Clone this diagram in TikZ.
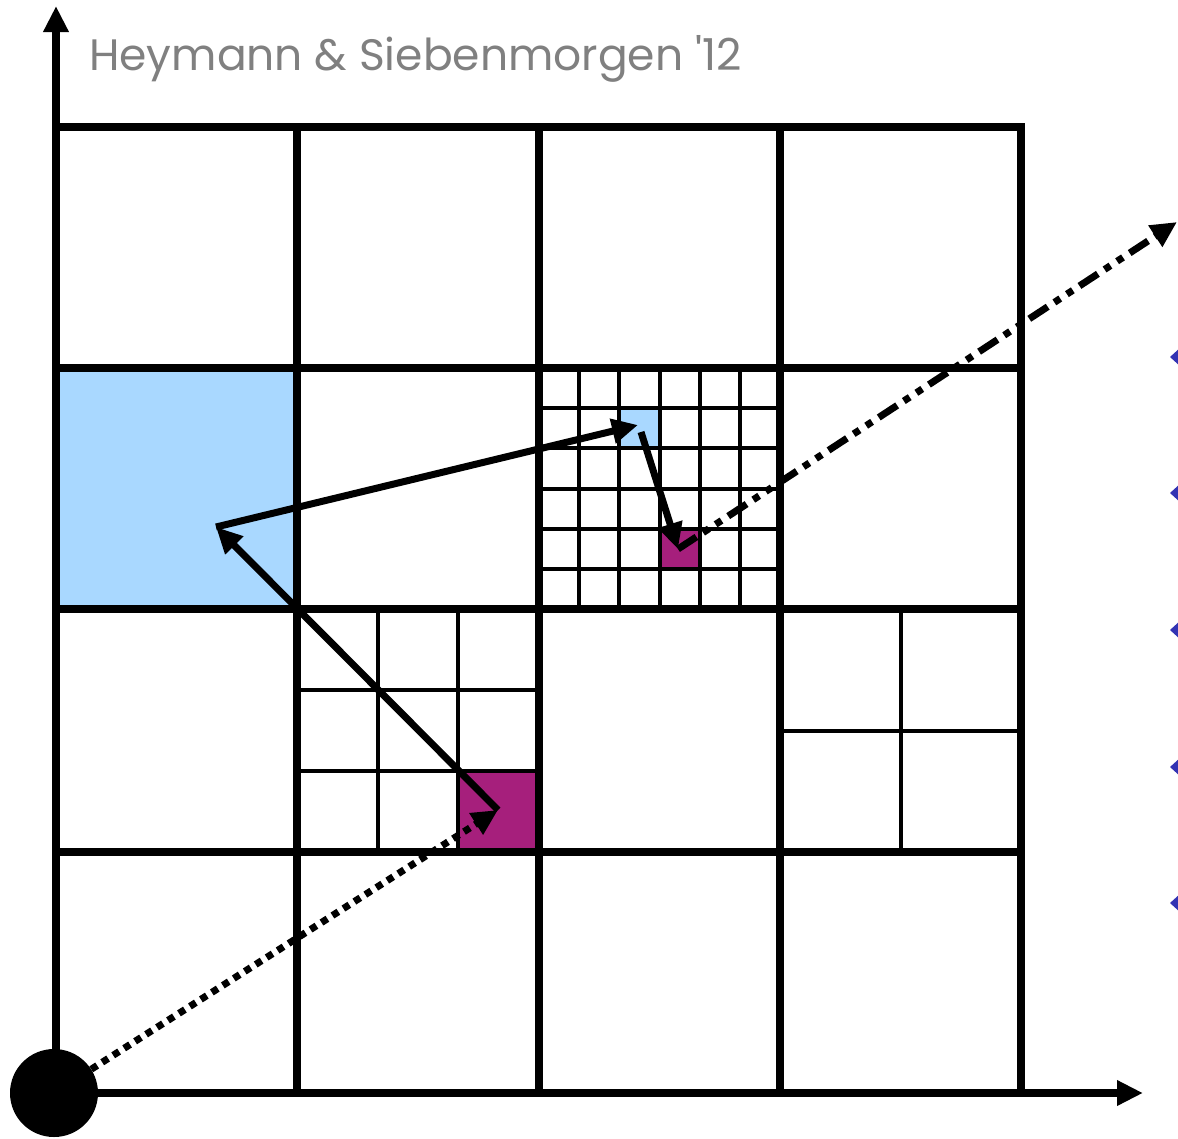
\documentclass[tikz,border=0pt]{standalone}
\usepackage{fontspec}
\newfontfamily\titlefont{Poppins}
\usetikzlibrary{arrows.meta}
\definecolor{cellblue}{HTML}{A9D8FF}
\definecolor{cellmag}{HTML}{A61F7C}
\definecolor{bulletblue}{HTML}{3333B3}
\definecolor{titlegray}{HTML}{808080}
\tikzset{
  mainline/.style={line width=7.5pt,line cap=rect},
  fineline/.style={line width=4pt},
  axisline/.style={line width=8pt,-{Triangle[length=26pt,width=24pt]}},
  flow/.style={line width=7pt,-{Triangle[length=26pt,width=24pt]}},
  dottedflow/.style={flow,dash pattern=on 7pt off 6pt},
  dashdotflow/.style={flow,dash pattern=on 22pt off 8pt on 7pt off 8pt on 7pt off 8pt},
  bullet/.style={fill=bulletblue,draw=none},
}
\begin{document}
\begin{tikzpicture}[x=1pt,y=-1pt]
\useasboundingbox (0,0) rectangle (1178,1138);
% filled cells
\fill[cellblue] (56,368) rectangle (297,609);
\fill[cellblue] (619.2,408.2) rectangle (659.3,448.3);
\fill[cellmag] (659.3,528.7) rectangle (699.5,568.8);
\fill[cellmag] (458.5,771.3) rectangle (539,852);
% fine grid 6x6
\foreach \i in {1,...,5} {
  \draw[fineline] ({539+\i*241/6},368) -- ({539+\i*241/6},609);
  \draw[fineline] (539,{368+\i*241/6}) -- (780,{368+\i*241/6});
}
% fine grid 3x3
\foreach \i in {1,2} {
  \draw[fineline] ({297+\i*242/3},609) -- ({297+\i*242/3},852);
  \draw[fineline] (297,{609+\i*243/3}) -- (539,{609+\i*243/3});
}
% 2x2
\draw[fineline] (901,609) -- (901,852);
\draw[fineline] (780,731) -- (1021,731);
% main grid
\foreach \x in {297,539,780,1021} \draw[mainline] (\x,127) -- (\x,1093);
\foreach \y in {127,368,609,852} \draw[mainline] (56,\y) -- (1021,\y);
% axes
\coordinate (ytip) at (56,6);
\coordinate (xtip) at (1143,1093);
\coordinate (corner) at (56,1093);
\draw[axisline] (corner) -- (ytip);
\draw[axisline] (corner) -- (xtip);
% origin
\node[circle,fill=black,minimum size=88pt,inner sep=0pt] (origin) at (54,1093) {};
% points
\coordinate (m1) at (498,810);
\coordinate (b1) at (216,527);
\coordinate (b2) at (638,425);
\coordinate (b2s) at (641,432);
\coordinate (m2) at (678,549);
\coordinate (out) at (1177,222);
% arrows
\draw[dottedflow] (origin) -- (m1);
\draw[flow] (m1) -- (b1);
\draw[flow] (b1) -- (b2);
\draw[flow] (b2s) -- (m2);
\draw[dashdotflow] (m2) -- (out);
% bullets
\foreach \y [count=\k] in {357,493,630,767,903} {
  \coordinate (bul\k) at (1181,\y);
  \fill[bullet] (1170,\y) -- (1181,{\y-10}) -- (1192,\y) -- (1181,{\y+10}) -- cycle;
}
% title
\node[anchor=base west,inner sep=0pt,text=titlegray,font=\titlefont\fontsize{44}{50}\selectfont] (title) at (89,70) {Heymann \& Siebenmorgen '12};
\end{tikzpicture}
\end{document}
